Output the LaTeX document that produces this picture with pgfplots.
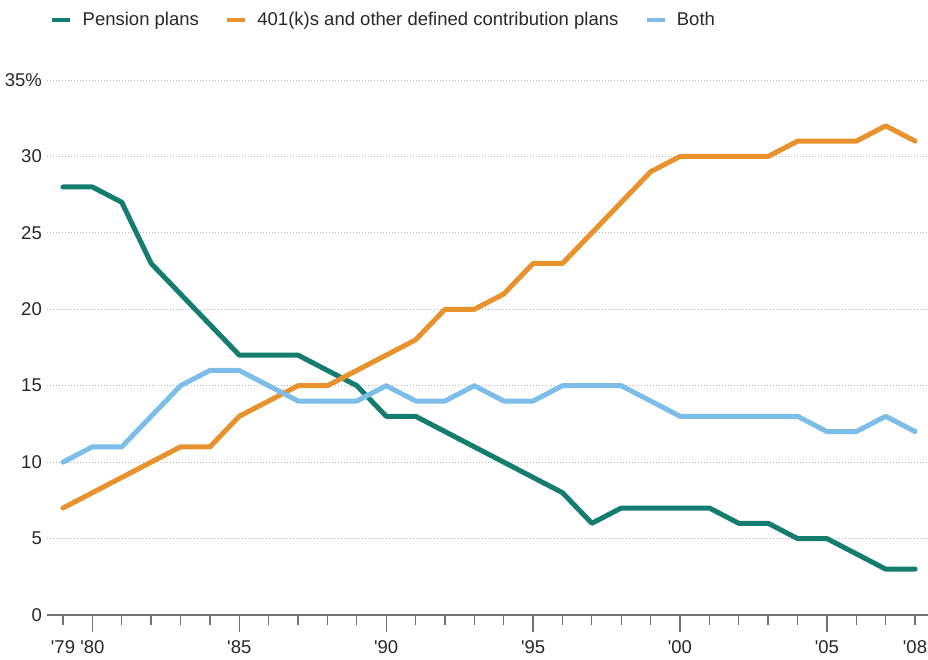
\documentclass[border=0pt]{standalone}
\usepackage{fontspec}
\setmainfont{Liberation Sans}
\usepackage{pgfplots}
\pgfplotsset{compat=1.18}
\definecolor{cteal}{RGB}{20,125,110}
\definecolor{corange}{RGB}{232,146,46}
\definecolor{cblue}{RGB}{125,190,232}
\definecolor{ctext}{RGB}{40,40,40}
\begin{document}
\begin{tikzpicture}
\useasboundingbox (0,0) rectangle (928pt,659pt);
\begin{axis}[
  at={(47pt,44pt)}, anchor=south west,
  scale only axis, width=881pt, height=535pt,
  xmin=1978.455, xmax=2008.44, ymin=0, ymax=35,
  clip=false,
  font=\fontsize{18.5}{22}\selectfont,
  /pgf/number format/assume math mode=true,
  axis x line*=bottom, axis y line*=left,
  x axis line style={-, draw=black!55, line width=2pt},
  y axis line style={draw=none},
  xtick={1979,...,2008},
  xticklabels={\textquotesingle 79,\textquotesingle 80,,,,,\textquotesingle 85,,,,,\textquotesingle 90,,,,,\textquotesingle 95,,,,,\textquotesingle 00,,,,,\textquotesingle 05,,,\textquotesingle 08},
  tick align=outside,
  major tick length=10pt,
  xtick style={draw=black!55, line width=1.3pt},
  xticklabel style={text=ctext, inner sep=0pt, anchor=north, yshift=-15pt},
  extra x ticks={1980,1985,1990,1995,2000,2005},
  extra x tick labels={},
  extra x tick style={major tick length=16.5pt, xtick style={draw=black!55, line width=1.3pt}},
  ytick={0,5,...,35},
  yticklabels={0,5,10,15,20,25,30,35\%},
  ytick style={draw=none},
  yticklabel style={text=ctext, anchor=east, inner sep=0pt, xshift=5pt},
  ymajorgrids,
  grid style={draw=black!28, line width=0.9pt, dash pattern=on 1.2pt off 1.8pt},
  legend columns=3,
  legend style={draw=none, fill=none, at={(axis description cs:0,1)}, anchor=west, yshift=60pt, xshift=3pt,
    inner sep=0pt, nodes={inner sep=0pt, text=ctext},
    /tikz/every odd column/.append style={column sep=10pt},
    /tikz/every even column/.append style={column sep=26pt}},
  legend image code/.code={\draw[line width=4.5pt, line cap=butt] (0pt,0pt) -- (18pt,0pt);},
  every axis plot/.append style={line width=5pt, line join=round, line cap=round},
]
\addplot[cteal] coordinates {
(1979,28) (1980,28) (1981,27) (1982,23) (1983,21) (1984,19) (1985,17) (1986,17) (1987,17) (1988,16)
(1989,15) (1990,13) (1991,13) (1992,12) (1993,11) (1994,10) (1995,9) (1996,8) (1997,6) (1998,7)
(1999,7) (2000,7) (2001,7) (2002,6) (2003,6) (2004,5) (2005,5) (2006,4) (2007,3) (2008,3)};
\addlegendentry{Pension plans}
\addplot[corange] coordinates {
(1979,7) (1980,8) (1981,9) (1982,10) (1983,11) (1984,11) (1985,13) (1986,14) (1987,15) (1988,15)
(1989,16) (1990,17) (1991,18) (1992,20) (1993,20) (1994,21) (1995,23) (1996,23) (1997,25) (1998,27)
(1999,29) (2000,30) (2001,30) (2002,30) (2003,30) (2004,31) (2005,31) (2006,31) (2007,32) (2008,31)};
\addlegendentry{401(k)s and other defined contribution plans}
\addplot[cblue] coordinates {
(1979,10) (1980,11) (1981,11) (1982,13) (1983,15) (1984,16) (1985,16) (1986,15) (1987,14) (1988,14)
(1989,14) (1990,15) (1991,14) (1992,14) (1993,15) (1994,14) (1995,14) (1996,15) (1997,15) (1998,15)
(1999,14) (2000,13) (2001,13) (2002,13) (2003,13) (2004,13) (2005,12) (2006,12) (2007,13) (2008,12)};
\addlegendentry{Both}
\end{axis}
\end{tikzpicture}
\end{document}
